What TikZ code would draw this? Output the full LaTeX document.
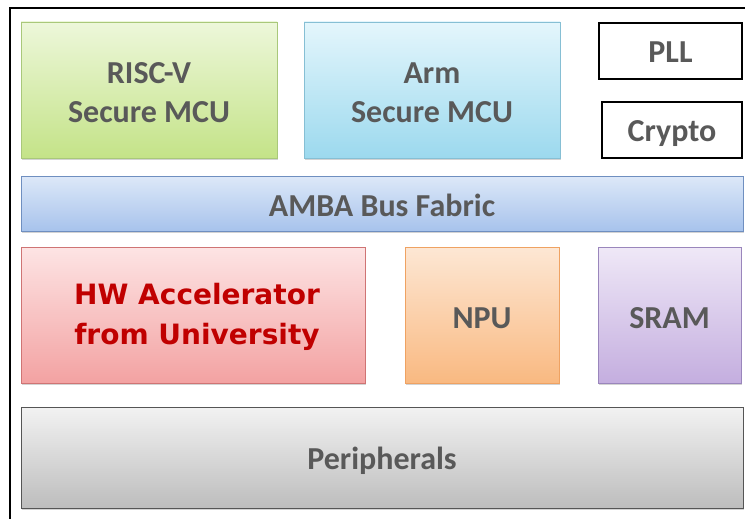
\documentclass[tikz,border=0pt]{standalone}
\usepackage{fontspec}
\setmainfont{Carlito}
\newfontfamily\accelfont{DejaVu Sans}
\usetikzlibrary{shadows}

\definecolor{txtgray}{HTML}{595959}
\definecolor{accelred}{HTML}{C00000}

\definecolor{riscvtop}{HTML}{EDF7DA}
\definecolor{riscvbot}{HTML}{C4E388}
\definecolor{riscvline}{HTML}{A9C87A}
\definecolor{armtop}{HTML}{E4F6FC}
\definecolor{armbot}{HTML}{9CD9EE}
\definecolor{armline}{HTML}{86BFD4}
\definecolor{ambatop}{HTML}{DDE8F8}
\definecolor{ambabot}{HTML}{A7C3EC}
\definecolor{ambaline}{HTML}{6F8FC0}
\definecolor{acceltop}{HTML}{FDE4E4}
\definecolor{accelbot}{HTML}{F3A2A2}
\definecolor{accelline}{HTML}{CF7474}
\definecolor{nputop}{HTML}{FDE7D4}
\definecolor{npubot}{HTML}{F9B981}
\definecolor{npuline}{HTML}{EFA262}
\definecolor{sramtop}{HTML}{EFE8F7}
\definecolor{srambot}{HTML}{C4AEDF}
\definecolor{sramline}{HTML}{9A86BC}
\definecolor{periphtop}{HTML}{F2F2F2}
\definecolor{periphbot}{HTML}{BDBDBD}
\definecolor{periphline}{HTML}{555555}

% lower the ink of a line without changing its box
\newcommand{\dropline}[2]{\raisebox{-#1}[\height][\depth]{#2}}

\begin{document}
\begin{tikzpicture}[x=1pt,y=-1pt]
%------------------------------------------------------------------------------------------------
% Block styles

    \tikzset{block/.style={draw, line width=0.8pt, inner sep=0pt, outer sep=0pt,
            anchor=north west, align=center, text=txtgray,
            font=\fontsize{32}{39}\selectfont\bfseries,
            drop shadow={opacity=0.35, shadow xshift=1.2pt, shadow yshift=-1.6pt}},
        plainbox/.style={draw=black, line width=2pt, fill=white, inner sep=0pt, outer sep=0pt,
            anchor=north west, text=txtgray, font=\fontsize{32}{39}\selectfont\bfseries}
    }
    \useasboundingbox (0,0) rectangle (745,519);
    % frame (cut off at right and bottom)
    \draw[line width=2pt] (10,519) -- (10,8) -- (745,8);
%------------------------------------------------------------------------------------------------
% top row
    \node[block, draw=riscvline, top color=riscvtop, bottom color=riscvbot,
        minimum width=256, minimum height=136] (riscv) at (21,22)
        {\dropline{3pt}{RISC-V}\\\dropline{3pt}{Secure MCU}};
    \node[block, draw=armline, top color=armtop, bottom color=armbot,
        minimum width=256, minimum height=136] (arm) at (304,22)
        {\dropline{3pt}{Arm}\\\dropline{3pt}{Secure MCU}};
    \node[plainbox, minimum width=143, minimum height=56] (pll) at (599,23) {\dropline{1pt}{PLL}};
    \node[plainbox, minimum width=140, minimum height=56] (crypto) at (602,102) {\dropline{4pt}{Crypto}};
% bus
    \node[block, draw=ambaline, top color=ambatop, bottom color=ambabot,
        minimum width=722, minimum height=55] (amba) at (21,176) {\dropline{1.5pt}{AMBA Bus Fabric}};
% middle row
    \node[block, draw=accelline, top color=acceltop, bottom color=accelbot,
        minimum width=344, minimum height=136, text=accelred,
        font=\fontsize{28}{40}\selectfont\accelfont\bfseries] (accel) at (21,247)
        {\hspace*{8pt}\dropline{2pt}{HW Accelerator}\\\hspace*{8pt}\dropline{2pt}{from University}};
    \node[block, draw=npuline, top color=nputop, bottom color=npubot,
        minimum width=154, minimum height=136] (npu) at (405,247) {\dropline{3pt}{NPU}};
    \node[block, draw=sramline, top color=sramtop, bottom color=srambot,
        minimum width=143, minimum height=136] (sram) at (598,247) {\dropline{3pt}{SRAM}};
% bottom
    \node[block, draw=periphline, top color=periphtop, bottom color=periphbot,
        minimum width=722, minimum height=101] (periph) at (21,407) {\dropline{3pt}{Peripherals}};
\end{tikzpicture}
\end{document}
